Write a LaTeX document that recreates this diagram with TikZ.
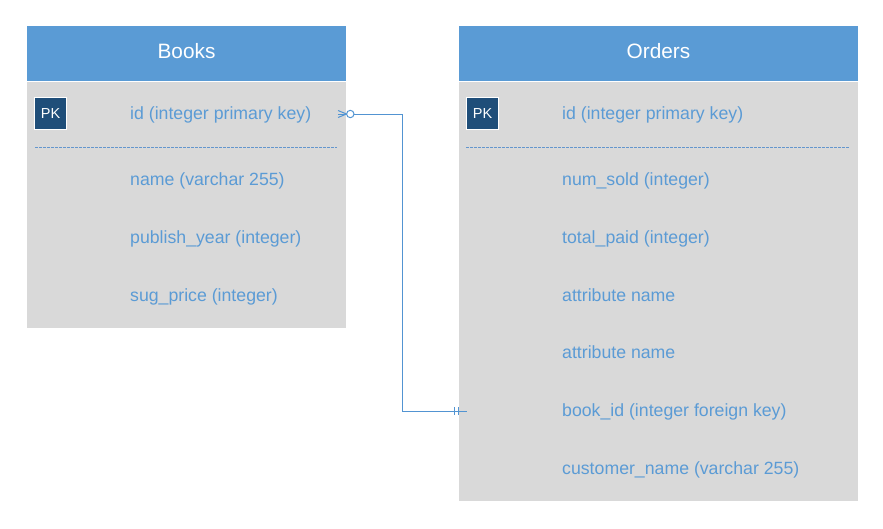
\documentclass[tikz,border=0pt]{standalone}
\usepackage{fontspec}
\setmainfont{Liberation Sans}
\begin{document}
\begin{tikzpicture}[x=1pt,y=-1pt,
  hdrfill/.style={fill=hdrblue,draw=none},
  bodyfill/.style={fill=bodygray,draw=none},
  hdrtext/.style={text=white,font=\fontsize{20.8}{24}\selectfont,anchor=base,inner sep=0},
  attr/.style={text=txtblue,font=\fontsize{17.7}{21}\selectfont,anchor=base west,inner sep=0},
  pkbox/.style={fill=pkblue,draw=white,line width=1pt,text=white,minimum width=32pt,minimum height=32pt,inner sep=0,font=\fontsize{14.5}{17}\selectfont},
  sep/.style={draw=sepblue,line width=0.9pt,dash pattern=on 3pt off 1pt},
  conn/.style={draw=lineblue,line width=1pt}]
\definecolor{hdrblue}{RGB}{90,155,213}
\definecolor{bodygray}{RGB}{217,217,217}
\definecolor{txtblue}{RGB}{91,155,213}
\definecolor{pkblue}{RGB}{31,78,121}
\definecolor{sepblue}{RGB}{100,150,205}
\definecolor{lineblue}{RGB}{82,148,210}
\useasboundingbox (0,0) rectangle (883,528);
\fill[white] (0,0) rectangle (883,528);
% Books table
\path[hdrfill] (27,26) rectangle (346,80.5);
\path[bodyfill] (27,81.5) rectangle (346,328);
\node[hdrtext] (bookshdr) at (186.5,58.5) {Books};
\node[pkbox] (bookspk) at (50.5,113.5) {PK};
\path[sep] (35,147.5) -- (337,147.5);
\node[attr] (bid) at (130,119) {id (integer primary key)};
\node[attr] (bname) at (130,185.5) {name (varchar 255)};
\node[attr] (byear) at (130,243.5) {publish\_year (integer)};
\node[attr] (bprice) at (130,301.5) {sug\_price (integer)};
% Orders table
\path[hdrfill] (459,26) rectangle (858,80.5);
\path[bodyfill] (459,81.5) rectangle (858,500.5);
\node[hdrtext] (ordershdr) at (658.5,58.5) {Orders};
\node[pkbox] (orderspk) at (482.5,113.5) {PK};
\path[sep] (466,147.5) -- (849,147.5);
\node[attr] (oid) at (562,119) {id (integer primary key)};
\node[attr] (onum) at (562,185.5) {num\_sold (integer)};
\node[attr] (opaid) at (562,243.5) {total\_paid (integer)};
\node[attr] (oattr1) at (562,301.5) {attribute name};
\node[attr] (oattr2) at (562,358) {attribute name};
\node[attr] (obook) at (562,416) {book\_id (integer foreign key)};
\node[attr] (ocust) at (562,474) {customer\_name (varchar 255)};
% connector
\coordinate (cstart) at (338,114);
\coordinate (cend) at (466.5,411);
\coordinate (elbow) at (402.3,0);
\draw[conn] (cstart) -- (cstart -| elbow) |- (cend);
% crow's foot, zero-or-many
\draw[conn] (338,110.5) -- (346.5,114) -- (338,117.5);
\draw[conn,fill=white] (350.3,114) circle (3.7);
% one-and-only-one bars
\draw[conn] (454.3,407) -- (454.3,415);
\draw[conn] (458.3,407) -- (458.3,415);
\end{tikzpicture}
\end{document}
